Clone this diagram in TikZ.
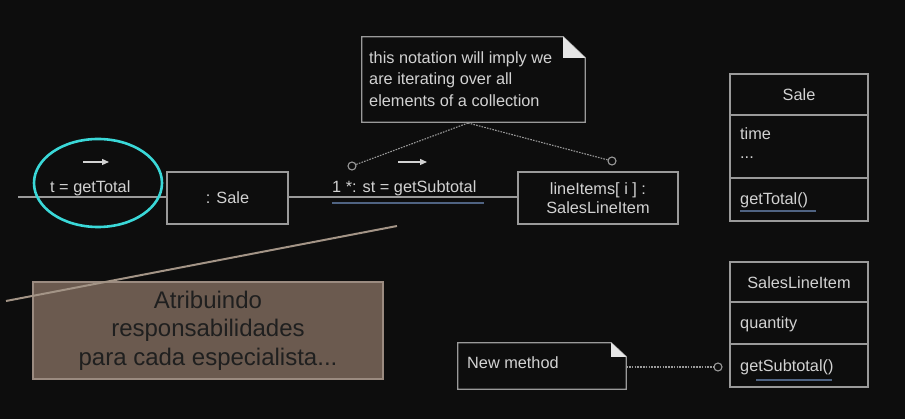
\documentclass[tikz,border=0pt]{standalone}
\usepackage{fontspec}
\setmainfont{Liberation Sans}
\usetikzlibrary{arrows.meta,shapes.geometric}
\definecolor{bg}{HTML}{0D0D0D}
\definecolor{fg}{HTML}{D2D2D2}
\definecolor{ln}{HTML}{9A9A9A}
\definecolor{ul}{HTML}{4F6382}
\definecolor{cy}{HTML}{3AD8D8}
\definecolor{brownfill}{HTML}{6B5A4F}
\definecolor{brownline}{HTML}{9B8B80}
\definecolor{diag}{HTML}{A39486}
\definecolor{flap}{HTML}{E6E6E6}
\begin{document}
\begin{tikzpicture}[x=1pt,y=-1pt,
  txt/.style={text=fg, font=\fontsize{16.3}{21}\selectfont, inner sep=0pt},
  objbox/.style={draw=ln, line width=1.3pt, txt, align=center},
  clsbox/.style={draw=ln, line width=1.3pt, minimum width=138pt},
  link/.style={draw=ln, line width=1.2pt},
  dotlink/.style={draw=ln, line width=1.1pt, dash pattern=on 1.6pt off 1.2pt},
  knob/.style={circle, draw=ln, line width=1.1pt, minimum size=8pt, inner sep=0pt},
  msgarrow/.style={draw=fg, line width=1.3pt, -{Triangle[length=7pt,width=6pt]}},
  uline/.style={draw=ul, line width=2pt},
  notebox/.style={draw=none, inner sep=0pt}
]
\fill[bg] (0,0) rectangle (905,419);
\useasboundingbox (0,0) rectangle (905,419);

% object boxes
\node[objbox, minimum width=121pt, minimum height=52pt] (sale) at (227.5,198) {: Sale};
\node[objbox, minimum width=160pt, minimum height=52pt] (li) at (598,198) {lineItems[ i ] :\\[-1.5pt]SalesLineItem};
\coordinate (lstart) at (18,197);
\draw[link] (lstart) -- (sale.west |- lstart);
\draw[link] (sale.east |- lstart) -- (li.west |- lstart);

% messages
\node[txt, anchor=west] (m1) at (50,188) {t = getTotal};
\coordinate (a1s) at (83,162); \coordinate (a1e) at (109,162);
\draw[msgarrow] (a1s) -- (a1e);
\node[txt, anchor=west] (m2) at (332,188) {1 *: st = getSubtotal};
\coordinate (a2s) at (398,162); \coordinate (a2e) at (427,162);
\draw[msgarrow] (a2s) -- (a2e);
\coordinate (u2s) at (332,203); \coordinate (u2e) at (484,203);
\draw[uline] (u2s) -- (u2e);

% cyan ellipse
\node[draw=cy, line width=2.6pt, ellipse, inner sep=0pt, minimum width=128pt, minimum height=88pt] (hl) at (98,183) {};

% note 1
\node[notebox, minimum width=223pt, minimum height=85pt] (n1) at (473.5,79.5) {};
\draw[ln, line width=1.3pt] (n1.north west) -- ([xshift=-22pt]n1.north east) -- ([yshift=-21pt]n1.north east) -- (n1.south east) -- (n1.south west) -- cycle;
\fill[flap] ([xshift=-22pt]n1.north east) -- ([xshift=-22pt,yshift=-21pt]n1.north east) -- ([yshift=-21pt]n1.north east) -- cycle;
\node[txt, anchor=west, align=left, font=\fontsize{16.3}{21.5}\selectfont] (n1t) at (369,79) {this notation will imply we\\are iterating over all\\elements of a collection};
\coordinate (n1b) at (468,123);
\node[knob] (c1) at (352,166) {};
\node[knob] (c2) at (612,161) {};
\draw[dotlink] (n1b) -- (c1);
\draw[dotlink] (n1b) -- (c2);

% class Sale
\node[clsbox, minimum height=147pt] (saleC) at (799,147.5) {};
\draw[link] (730,115) -- (868,115);
\draw[link] (730,178) -- (868,178);
\node[txt] (saleN) at (799,95) {Sale};
\node[txt, anchor=west] (saleA1) at (740,134) {time};
\node[txt, anchor=west] (saleA2) at (740,158) {...};
\node[txt, anchor=west] (saleM) at (740,200) {getTotal()};
\coordinate (u3s) at (740,211); \coordinate (u3e) at (816,211);
\draw[uline] (u3s) -- (u3e);

% class SalesLineItem
\node[clsbox, minimum height=125pt] (sliC) at (799,324.5) {};
\draw[link] (730,302) -- (868,302);
\draw[link] (730,344) -- (868,344);
\node[txt] (sliN) at (799,283) {SalesLineItem};
\node[txt, anchor=west] (sliA) at (740,324) {quantity};
\node[txt, anchor=west] (sliM) at (740,367) {getSubtotal()};
\coordinate (u4s) at (756,380); \coordinate (u4e) at (832,380);
\draw[uline] (u4s) -- (u4e);

% note 2
\node[notebox, minimum width=168pt, minimum height=46pt] (n2) at (542,366) {};
\draw[ln, line width=1.3pt] (n2.north west) -- ([xshift=-15pt]n2.north east) -- ([yshift=-14pt]n2.north east) -- (n2.south east) -- (n2.south west) -- cycle;
\fill[flap] ([xshift=-15pt]n2.north east) -- ([xshift=-15pt,yshift=-14pt]n2.north east) -- ([yshift=-14pt]n2.north east) -- cycle;
\node[txt, anchor=west] (n2t) at (467,363) {New method};
\node[knob] (c3) at (718,367) {};
\draw[dotlink] (n2.east |- c3) -- (c3);

% brown callout
\node[draw=brownline, fill=brownfill, line width=1.5pt, minimum width=350pt, minimum height=97pt,
      text=black!88, font=\fontsize{24}{28.5}\selectfont, align=center] (callout) at (208,330.5)
      {Atribuindo\\responsabilidades\\para cada especialista...};
\coordinate (d1) at (6,301); \coordinate (d2) at (397,226);
\draw[diag, line width=2pt] (d1) -- (d2);
\end{tikzpicture}
\end{document}
